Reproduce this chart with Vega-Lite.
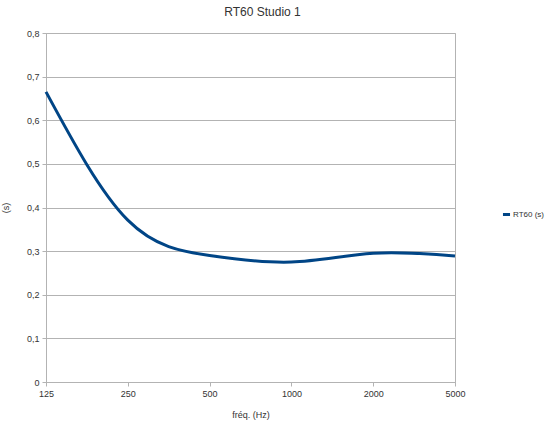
{
  "$schema": "https://vega.github.io/schema/vega-lite/v6.json",
  "description": "RT60 reverberation time of Studio 1 by frequency band",
  "width": 409,
  "height": 349,
  "autosize": {"type": "none"},
  "padding": {"left": 46, "top": 33, "right": 95, "bottom": 51},
  "background": "white",
  "title": {
    "text": "RT60 Studio 1",
    "font": "Liberation Sans",
    "fontSize": 12,
    "fontWeight": "normal",
    "color": "#333333",
    "anchor": "middle",
    "dx": 12,
    "offset": 10
  },
  "data": {
    "values": [
      {"freq": "125", "rt60": 0.665},
      {"freq": "250", "rt60": 0.371},
      {"freq": "500", "rt60": 0.29},
      {"freq": "1000", "rt60": 0.275},
      {"freq": "2000", "rt60": 0.295},
      {"freq": "5000", "rt60": 0.289}
    ]
  },
  "mark": {"type": "line", "interpolate": "natural", "strokeWidth": 3},
  "encoding": {
    "x": {
      "field": "freq",
      "type": "ordinal",
      "sort": null,
      "scale": {"type": "point", "padding": 0},
      "axis": {
        "title": "fréq. (Hz)",
        "labelAngle": 0,
        "grid": false,
        "domainColor": "#b3b3b3",
        "tickColor": "#b3b3b3",
        "tickSize": 4,
        "labelPadding": 3,
        "titlePadding": 12
      }
    },
    "y": {
      "field": "rt60",
      "type": "quantitative",
      "scale": {"domain": [0, 0.8], "nice": false},
      "axis": {
        "title": "(s)",
        "values": [0, 0.1, 0.2, 0.3, 0.4, 0.5, 0.6, 0.7, 0.8],
        "labelExpr": "datum.value == 0 ? '0' : replace(format(datum.value, '.1f'), '.', ',')",
        "grid": true,
        "gridColor": "#b3b3b3",
        "domainColor": "#b3b3b3",
        "tickColor": "#b3b3b3",
        "tickSize": 4,
        "labelPadding": 3,
        "titlePadding": 16
      }
    },
    "color": {
      "datum": "RT60 (s)",
      "scale": {"range": ["#004586"]},
      "legend": {
        "title": null,
        "orient": "none",
        "legendX": 455,
        "legendY": 176,
        "symbolType": "stroke",
        "symbolStrokeWidth": 3,
        "symbolSize": 50,
        "labelOffset": 1,
        "labelFontSize": 8
      }
    }
  },
  "config": {
    "font": "Liberation Sans",
    "view": {"stroke": "#b3b3b3"},
    "axis": {
      "labelFont": "Liberation Sans",
      "titleFont": "Liberation Sans",
      "labelFontSize": 9,
      "titleFontSize": 9,
      "titleFontWeight": "normal",
      "labelColor": "#333333",
      "titleColor": "#333333"
    },
    "legend": {"labelFont": "Liberation Sans", "labelColor": "#333333"}
  }
}
